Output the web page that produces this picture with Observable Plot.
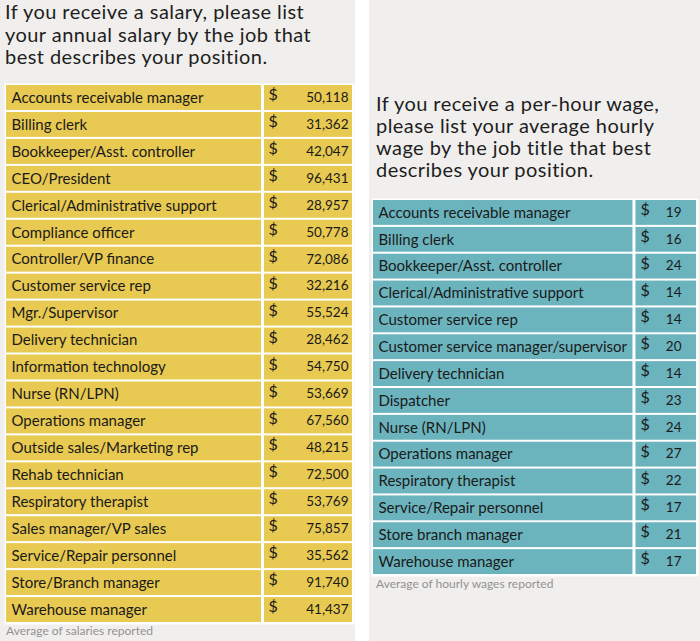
<!DOCTYPE html>
<html>
<head>
<meta charset="utf-8">
<script src="https://cdn.jsdelivr.net/npm/d3@7"></script>
<script src="https://cdn.jsdelivr.net/npm/@observablehq/plot@0.6"></script>
<style>
  html, body { margin: 0; padding: 0; background: #ffffff; }
  body { width: 700px; height: 641px; position: relative; overflow: hidden; font-family: Lato, "Open Sans", sans-serif; }
  .panel { position: absolute; top: 0; height: 641px; background: #f0efed; }
  .title { position: absolute; font-size: 20px; line-height: 22.7px; color: #1e1e1e; letter-spacing: 0.45px; white-space: nowrap; }
  .caption { position: absolute; font-size: 12px; color: #929292; }
  .chart { position: absolute; line-height: 0; }
  .chart svg { display: block; }
</style>
</head>
<body>
<div class="panel" id="left" style="left:0;width:355px;">
  <div class="title" style="left:5px;top:0px;">If you receive a salary, please list<br>your annual salary by the job that<br>best describes your position.</div>
  <div class="chart" id="leftChart" style="left:0;top:81px;"></div>
  <div class="caption" style="left:6px;top:623px;">Average of salaries reported</div>
</div>
<div class="panel" id="right" style="left:369px;width:331px;">
  <div class="title" style="left:7px;top:92px;line-height:22px;">If you receive a per-hour wage,<br>please list your average hourly<br>wage by the job title that best<br>describes your position.</div>
  <div class="chart" id="rightChart" style="left:0;top:196px;"></div>
  <div class="caption" style="left:7px;top:576px;">Average of hourly wages reported</div>
</div>
<script>
const salaryJobs = [
  "Accounts receivable manager", "Billing clerk", "Bookkeeper/Asst. controller", "CEO/President",
  "Clerical/Administrative support", "Compliance officer", "Controller/VP finance", "Customer service rep",
  "Mgr./Supervisor", "Delivery technician", "Information technology", "Nurse (RN/LPN)",
  "Operations manager", "Outside sales/Marketing rep", "Rehab technician", "Respiratory therapist",
  "Sales manager/VP sales", "Service/Repair personnel", "Store/Branch manager", "Warehouse manager"
];
const salaryValues = [50118, 31362, 42047, 96431, 28957, 50778, 72086, 32216, 55524, 28462,
  54750, 53669, 67560, 48215, 72500, 53769, 75857, 35562, 91740, 41437];

const hourlyJobs = [
  "Accounts receivable manager", "Billing clerk", "Bookkeeper/Asst. controller", "Clerical/Administrative support",
  "Customer service rep", "Customer service manager/supervisor", "Delivery technician", "Dispatcher",
  "Nurse (RN/LPN)", "Operations manager", "Respiratory therapist", "Service/Repair personnel",
  "Store branch manager", "Warehouse manager"
];
const hourlyValues = [19, 16, 24, 14, 14, 20, 14, 23, 24, 27, 22, 17, 21, 17];

const FONT = "Lato, 'Open Sans', sans-serif";

function table({jobs, values, fmt, width, height, margin, split, color, labelDx, dollarDx, valueDx}) {
  const rows = jobs.map((job, i) => ({job, value: values[i]}));
  return Plot.plot({
    width, height,
    marginTop: margin[0], marginRight: margin[1], marginBottom: margin[2], marginLeft: margin[3],
    x: {domain: [0, 1], axis: null},
    y: {type: "band", domain: jobs, axis: null, padding: 0, round: false},
    style: {background: "transparent", fontFamily: FONT, overflow: "visible"},
    marks: [
      Plot.frame({fill: "white", stroke: "none", inset: -1}),
      Plot.barX(rows, {x1: 0, x2: split, y: "job", fill: color, insetLeft: 1, insetRight: 1.5, insetTop: 1, insetBottom: 1}),
      Plot.barX(rows, {x1: split, x2: 1, y: "job", fill: color, insetLeft: 1.5, insetRight: 1, insetTop: 1, insetBottom: 1}),
      Plot.text(rows, {x: 0, y: "job", text: "job", textAnchor: "start", dx: labelDx, dy: 0, fontSize: 15, fill: "#1a1a1a"}),
      Plot.text(rows, {x: split, y: "job", text: () => "$", textAnchor: "start", dx: dollarDx, dy: -3, fontSize: 16, fill: "#1a1a1a"}),
      Plot.text(rows, {x: 1, y: "job", text: d => fmt(d.value), textAnchor: "end", dx: valueDx, dy: -0.5, fontSize: 13.5, fill: "#1a1a1a"})
    ]
  });
}

document.getElementById("leftChart").append(table({
  jobs: salaryJobs, values: salaryValues, fmt: d3.format(","),
  width: 355, height: 545, margin: [3, 2, 3, 5], split: 0.740,
  color: "#e8c951", labelDx: 6, dollarDx: 5.5, valueDx: -5
}));

document.getElementById("rightChart").append(table({
  jobs: hourlyJobs, values: hourlyValues, fmt: d3.format("d"),
  width: 331, height: 384, margin: [3, 3, 5, 3], split: 0.806,
  color: "#6bb3bd", labelDx: 6, dollarDx: 6, valueDx: -16
}));
</script>
</body>
</html>
